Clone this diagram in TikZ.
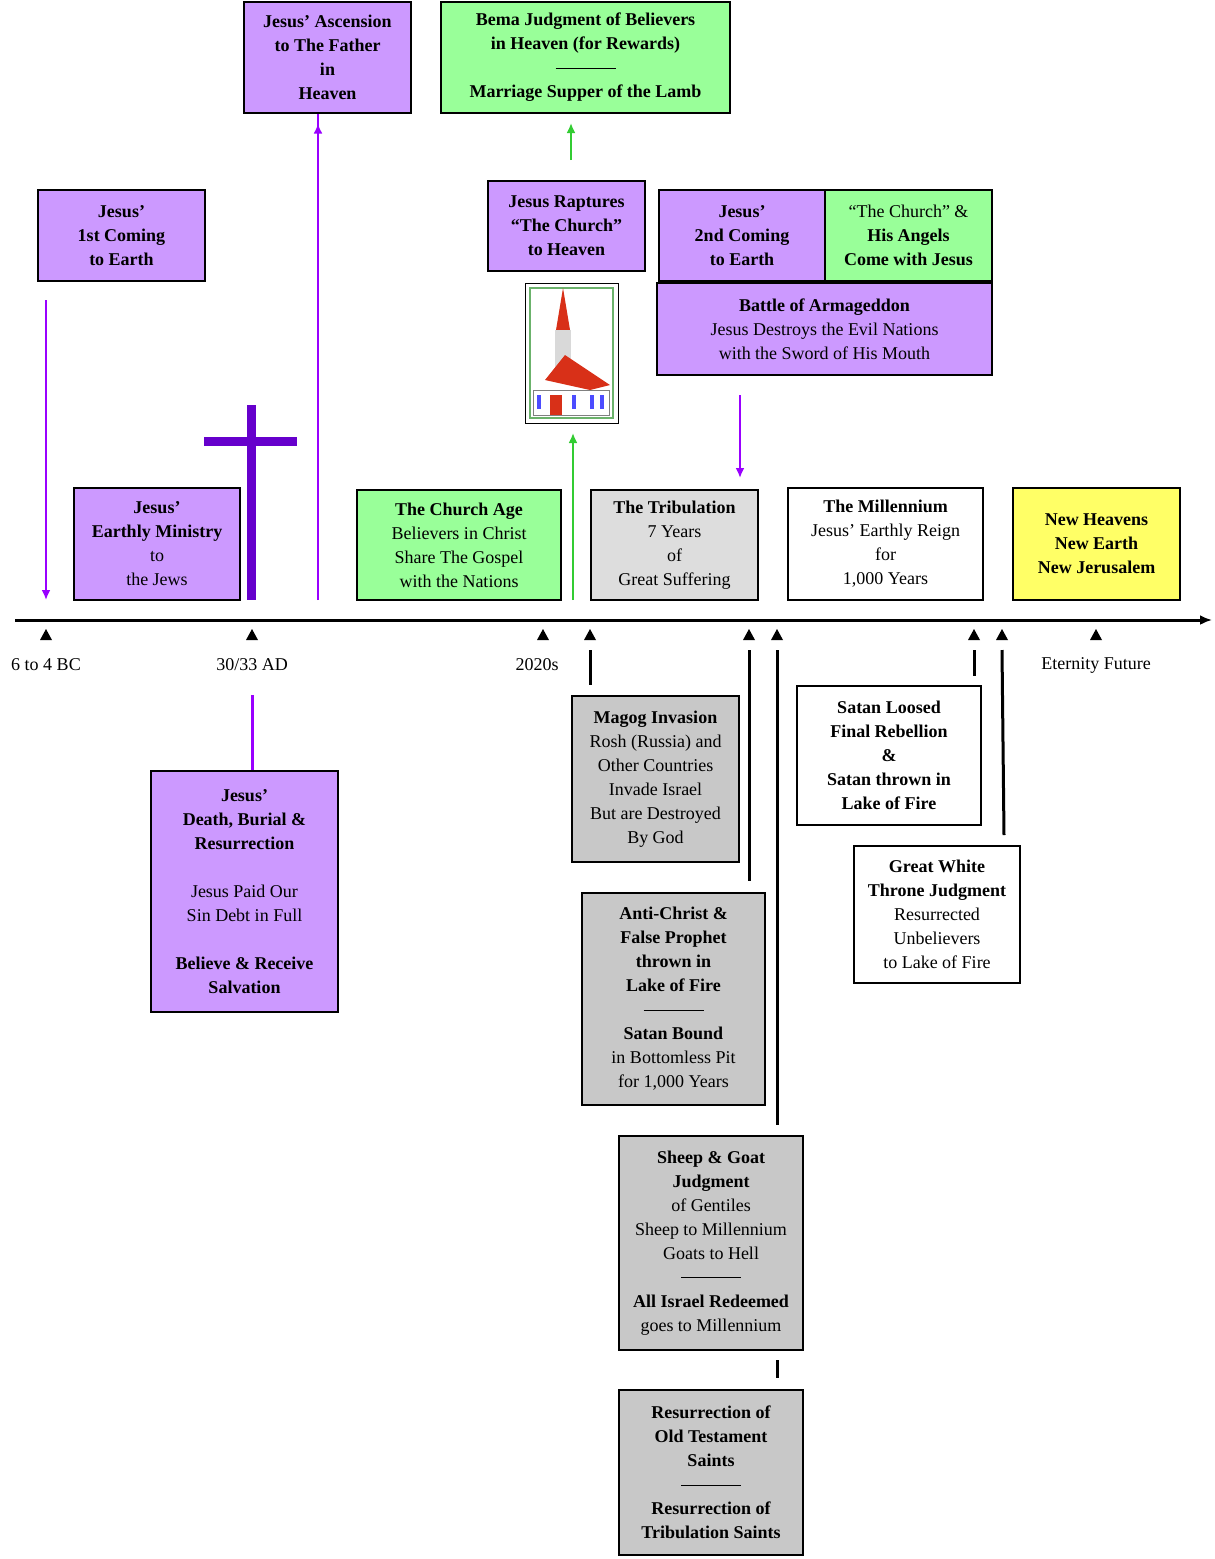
\documentclass[tikz,border=0pt]{standalone}
\usepackage{fontspec}
\setmainfont{Liberation Serif}
\usetikzlibrary{arrows.meta,positioning}
\definecolor{lav}{HTML}{CC99FF}
\definecolor{mint}{HTML}{99FF99}
\definecolor{lemon}{HTML}{FFFF66}
\definecolor{pale}{HTML}{DDDDDD}
\definecolor{stone}{HTML}{C8C8C8}
\definecolor{violet}{HTML}{9900FF}
\definecolor{leaf}{HTML}{33CC33}
\definecolor{crossc}{HTML}{6600CC}
\definecolor{brick}{HTML}{D83018}
\newcommand{\sep}{\rule[0.3em]{60pt}{0.6pt}}
\begin{document}
\begin{tikzpicture}[x=1pt,y=-1pt,
    box/.style={draw,line width=1.2pt,align=center,inner sep=0pt,
      font=\fontsize{18}{24}\selectfont,fill=#1},
    box/.default=white,
    up/.style={color=#1,line width=2.5pt,-{Latex[length=10pt,width=9pt]}},
    stem/.style={line width=3pt},
    every node/.style={black}
  ]
  \useasboundingbox (0,0) rectangle (1215,1559);
  % top boxes
  \node[box=lav,minimum width=167pt,minimum height=111pt] (ascend) at (327.5,57.5)
    {\bfseries Jesus’ Ascension\\\bfseries to The Father\\\bfseries in\\\bfseries Heaven};
  \node[box=mint,minimum width=289pt,minimum height=111pt] (bema) at (585.5,57.5)
    {\bfseries Bema Judgment of Believers\\\bfseries in Heaven (for Rewards)\\\sep\\\bfseries Marriage Supper of the Lamb};
  \node[box=lav,minimum width=167pt,minimum height=91pt] (first) at (121.5,235.5)
    {\bfseries Jesus’\\\bfseries 1st Coming\\\bfseries to Earth};
  \node[box=lav,minimum width=157pt,minimum height=90pt] (rapture) at (566.5,226)
    {\bfseries Jesus Raptures\\\bfseries “The Church”\\\bfseries to Heaven};
  \node[box=lav,minimum width=166pt,minimum height=91pt] (second) at (742,235.5)
    {\bfseries Jesus’\\\bfseries 2nd Coming\\\bfseries to Earth};
  \node[box=mint,minimum width=167pt,minimum height=91pt] (angels) at (908.5,235.5)
    {“The Church” \&\\\bfseries His Angels\\\bfseries Come with Jesus};
  \node[box=lav,minimum width=335pt,minimum height=92pt] (armageddon) at (824.5,329)
    {\bfseries Battle of Armageddon\\Jesus Destroys the Evil Nations\\with the Sword of His Mouth};
  % church picture
  \draw[line width=1pt,fill=white] (525,283) rectangle (618,423);
  \draw[mint!70!black,line width=2pt] (530,288) rectangle (613,418);
  \fill[brick] (563,288) -- (556,330) -- (570,330) -- cycle;
  \fill[gray!30] (555,330) rectangle (571,380);
  \fill[brick] (545,380) -- (565,355) -- (610,385) -- (590,390) -- cycle;
  \fill[white,draw=gray] (533,390) rectangle (609,415);
  \fill[brick] (550,395) rectangle (562,415);
  \foreach \wx in {537,572,590,600}
    \fill[blue!70] (\wx,395) rectangle ++(4,14);
  % middle row
  \node[box=lav,minimum width=166pt,minimum height=112pt] (ministry) at (157,544)
    {\bfseries Jesus’\\\bfseries Earthly Ministry\\to\\the Jews};
  \node[box=mint,minimum width=204pt,minimum height=110pt] (churchage) at (459,545)
    {\bfseries The Church Age\\Believers in Christ\\Share The Gospel\\with the Nations};
  \node[box=pale,minimum width=167pt,minimum height=110pt] (tribulation) at (674.5,545)
    {\bfseries The Tribulation\\7 Years\\of\\Great Suffering};
  \node[box,minimum width=195pt,minimum height=112pt] (millennium) at (885.5,544)
    {\bfseries The Millennium\\Jesus’ Earthly Reign\\for\\1,000 Years};
  \node[box=lemon,minimum width=167pt,minimum height=112pt] (eternity) at (1096.5,544)
    {\bfseries New Heavens\\\bfseries New Earth\\\bfseries New Jerusalem};
  % cross
  \fill[crossc] (247,405) rectangle (256,600);
  \fill[crossc] (204,437) rectangle (297,446);
  % arrows
  \draw[up=violet] (46,300) -- (46,600);
  \draw[up=violet] (318,600) -- (ascend.south -| 318,0) ++(0,10);
  \draw[up=leaf] (571,160) -- (571,123);
  \draw[up=leaf] (573,600) -- (573,433);
  \draw[up=violet] (740,395) -- (740,478);
  % timeline
  \draw[line width=3pt,-{Latex[length=12pt,width=10pt]}] (15,620) coordinate (start) -- (1212,620);
  \foreach \tx in {46,252,543,590,749,777,974,1002,1096}
    \fill (\tx-6,640) -- (\tx+6,640) -- (\tx,629) -- cycle;
  \node[font=\fontsize{18}{24}\selectfont] (bc) at (46,665) {6 to 4 BC};
  \node[font=\fontsize{18}{24}\selectfont] (ad) at (252,665) {30/33 AD};
  \node[font=\fontsize{18}{24}\selectfont] (now) at (537,665) {2020s};
  \node[font=\fontsize{18}{24}\selectfont] (future) at (1096,665) {Eternity Future};
  % lower boxes
  \node[box=lav,minimum width=187pt,minimum height=241pt] (death) at (244.5,891.5)
    {\bfseries Jesus’\\\bfseries Death, Burial \&\\\bfseries Resurrection\\[24pt]Jesus Paid Our\\Sin Debt in Full\\[24pt]\bfseries Believe \& Receive\\\bfseries Salvation};
  \node[box=stone,minimum width=167pt,minimum height=166pt] (magog) at (655.5,779)
    {\bfseries Magog Invasion\\Rosh (Russia) and\\Other Countries\\Invade Israel\\But are Destroyed\\By God};
  \node[box=stone,minimum width=183pt,minimum height=212pt] (antichrist) at (673.5,999)
    {\bfseries Anti-Christ \&\\\bfseries False Prophet\\\bfseries thrown in\\\bfseries Lake of Fire\\\sep\\\bfseries Satan Bound\\in Bottomless Pit\\for 1,000 Years};
  \node[box=stone,minimum width=184pt,minimum height=214pt] (sheep) at (711,1243)
    {\bfseries Sheep \& Goat\\\bfseries Judgment\\of Gentiles\\Sheep to Millennium\\Goats to Hell\\\sep\\\bfseries All Israel Redeemed\\goes to Millennium};
  \node[box=stone,minimum width=184pt,minimum height=165pt] (saints) at (711,1472.5)
    {\bfseries Resurrection of\\\bfseries Old Testament\\\bfseries Saints\\\sep\\\bfseries Resurrection of\\\bfseries Tribulation Saints};
  \node[box,minimum width=184pt,minimum height=139pt] (loosed) at (889,755.5)
    {\bfseries Satan Loosed\\\bfseries Final Rebellion\\\bfseries \&\\\bfseries Satan thrown in\\\bfseries Lake of Fire};
  \node[box,minimum width=166pt,minimum height=137pt] (whitethrone) at (937,914.5)
    {\bfseries Great White\\\bfseries Throne Judgment\\Resurrected\\Unbelievers\\to Lake of Fire};
  % connector stems
  \draw[stem,violet] (252,695) -- (death.north -| 252,0) ++(0,-11);
  \draw[stem] (590,650) -- (590,685);
  \draw[stem] (749,650) -- (749,881);
  \draw[stem] (777,650) -- (777,1125);
  \draw[stem] (777,1360) -- (777,1378);
  \draw[stem] (974,650) -- (974,676);
  \draw[stem] (1002,650) -- (1004,835);
\end{tikzpicture}
\end{document}
